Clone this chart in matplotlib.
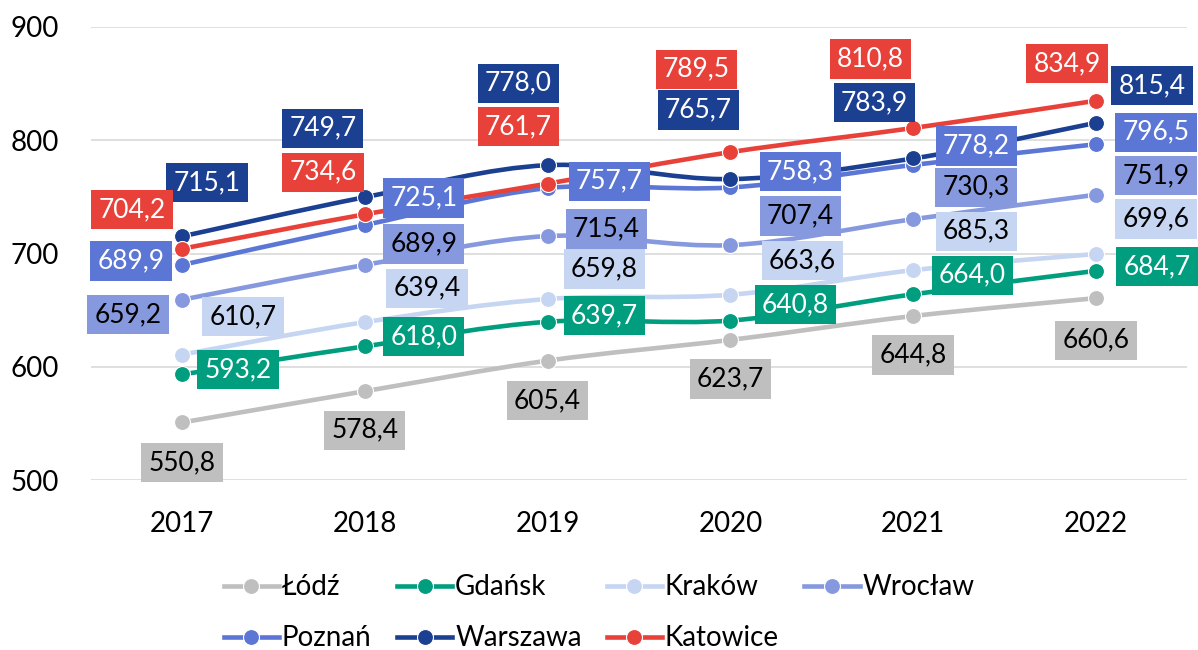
import matplotlib
matplotlib.use("Agg")
import matplotlib.pyplot as plt
import numpy as np
from matplotlib.path import Path
from matplotlib.patches import PathPatch
from matplotlib.lines import Line2D

plt.rcParams['font.family'] = ['Lato', 'DejaVu Sans']

# data
years = ["2017", "2018", "2019", "2020", "2021", "2022"]
cities = ["Łódź", "Gdańsk", "Kraków", "Wrocław", "Poznań", "Warszawa", "Katowice"]
lodz = [550.8, 578.4, 605.4, 623.7, 644.8, 660.6]
gdansk = [593.2, 618.0, 639.7, 640.8, 664.0, 684.7]
krakow = [610.7, 639.4, 659.8, 663.6, 685.3, 699.6]
wroclaw = [659.2, 689.9, 715.4, 707.4, 730.3, 751.9]
poznan = [689.9, 725.1, 757.7, 758.3, 778.2, 796.5]
warszawa = [715.1, 749.7, 778.0, 765.7, 783.9, 815.4]
katowice = [704.2, 734.6, 761.7, 789.5, 810.8, 834.9]
series = [lodz, gdansk, krakow, wroclaw, poznan, warszawa, katowice]

# styles
colors = ["#BFBFBF", "#009E7E", "#C5D5F2", "#8699DF", "#5B76D4", "#1B3F91", "#E8413A"]
text_colors = ["black", "white", "black", "black", "white", "white", "white"]

# label offsets in pixels (dx, dy up), per series per year
offsets = [
    [(0, -40), (0, -39), (0, -40), (0, -39), (0, -39), (0, -42)],
    [(56, 5), (59, 10), (57, 6), (65, 16), (59, 19), (61, 4)],
    [(61, 38), (62, 34), (57, 30), (72, 34), (63, 39), (60, 35)],
    [(-54, -15), (59, 21), (59, 7), (70, 29), (63, 32), (60, 19)],
    [(-51, 4), (59, 27), (62, 7), (70, 16), (63, 19), (60, 12)],
    [(25, 54), (-42, 69), (-29, 82), (-32, 69), (-39, 56), (56, 37)],
    [(-50, 39), (-42, 42), (-29, 57), (-34, 83), (-43, 69), (-29, 37)],
]


def smooth_path(xs, ys):
    pts = np.column_stack([xs, ys]).astype(float)
    n = len(pts)
    verts = [pts[0]]
    codes = [Path.MOVETO]
    for i in range(n - 1):
        p0 = pts[max(i - 1, 0)]
        p1 = pts[i]
        p2 = pts[i + 1]
        p3 = pts[min(i + 2, n - 1)]
        c1 = p1 + (p2 - p0) / 6.0
        c2 = p2 - (p3 - p1) / 6.0
        verts += [c1, c2, p2]
        codes += [Path.CURVE4] * 3
    return Path(verts, codes)


fig = plt.figure(figsize=(11.98, 6.5), dpi=100)
ax = fig.add_axes([0.0756, 0.2615, 0.9156, 0.697])
x = np.arange(len(years))

for i, vals in enumerate(series):
    patch = PathPatch(smooth_path(x, vals), facecolor="none", edgecolor=colors[i],
                      lw=3.3, capstyle="round", zorder=2 + i)
    ax.add_patch(patch)
    ax.plot(x, vals, linestyle="none", marker="o", ms=11.5, color=colors[i],
            mec="white", mew=0.8, zorder=2 + i)

for i, vals in enumerate(series):
    for j, v in enumerate(vals):
        dx, dy = offsets[i][j]
        ax.annotate(f"{v:.1f}".replace(".", ","), (x[j], v), xytext=(dx, dy),
                    textcoords="offset pixels", ha="center", va="center",
                    fontsize=19, color=text_colors[i], zorder=20,
                    bbox=dict(boxstyle="square,pad=0.27", fc=colors[i], ec="none"),
                    annotation_clip=False)

ax.set_xlim(-0.5, len(years) - 0.5)
ax.set_ylim(500, 900)
ax.set_yticks([500, 600, 700, 800, 900])
ax.set_xticks(x)
ax.set_xticklabels(years)
ax.grid(axis="y", color="#D9D9D9", lw=1.2)
ax.set_axisbelow(True)
for s in ax.spines.values():
    s.set_visible(False)
ax.tick_params(length=0, labelsize=20, pad=22)
ax.tick_params(axis="y", pad=23)

handles = [Line2D([], [], color=c, lw=3.3, marker="o", ms=11.5, mec="white", mew=0.8)
           for c in colors]
order = [0, 4, 1, 5, 2, 6, 3]
fig.legend([handles[k] for k in order], [cities[k] for k in order],
           ncol=4, loc="center", bbox_to_anchor=(0.5, 0.057), frameon=False,
           fontsize=20, handlelength=2.0, handletextpad=0.1, columnspacing=0.9,
           labelspacing=0.9)

fig.savefig("out.png", dpi=100)
